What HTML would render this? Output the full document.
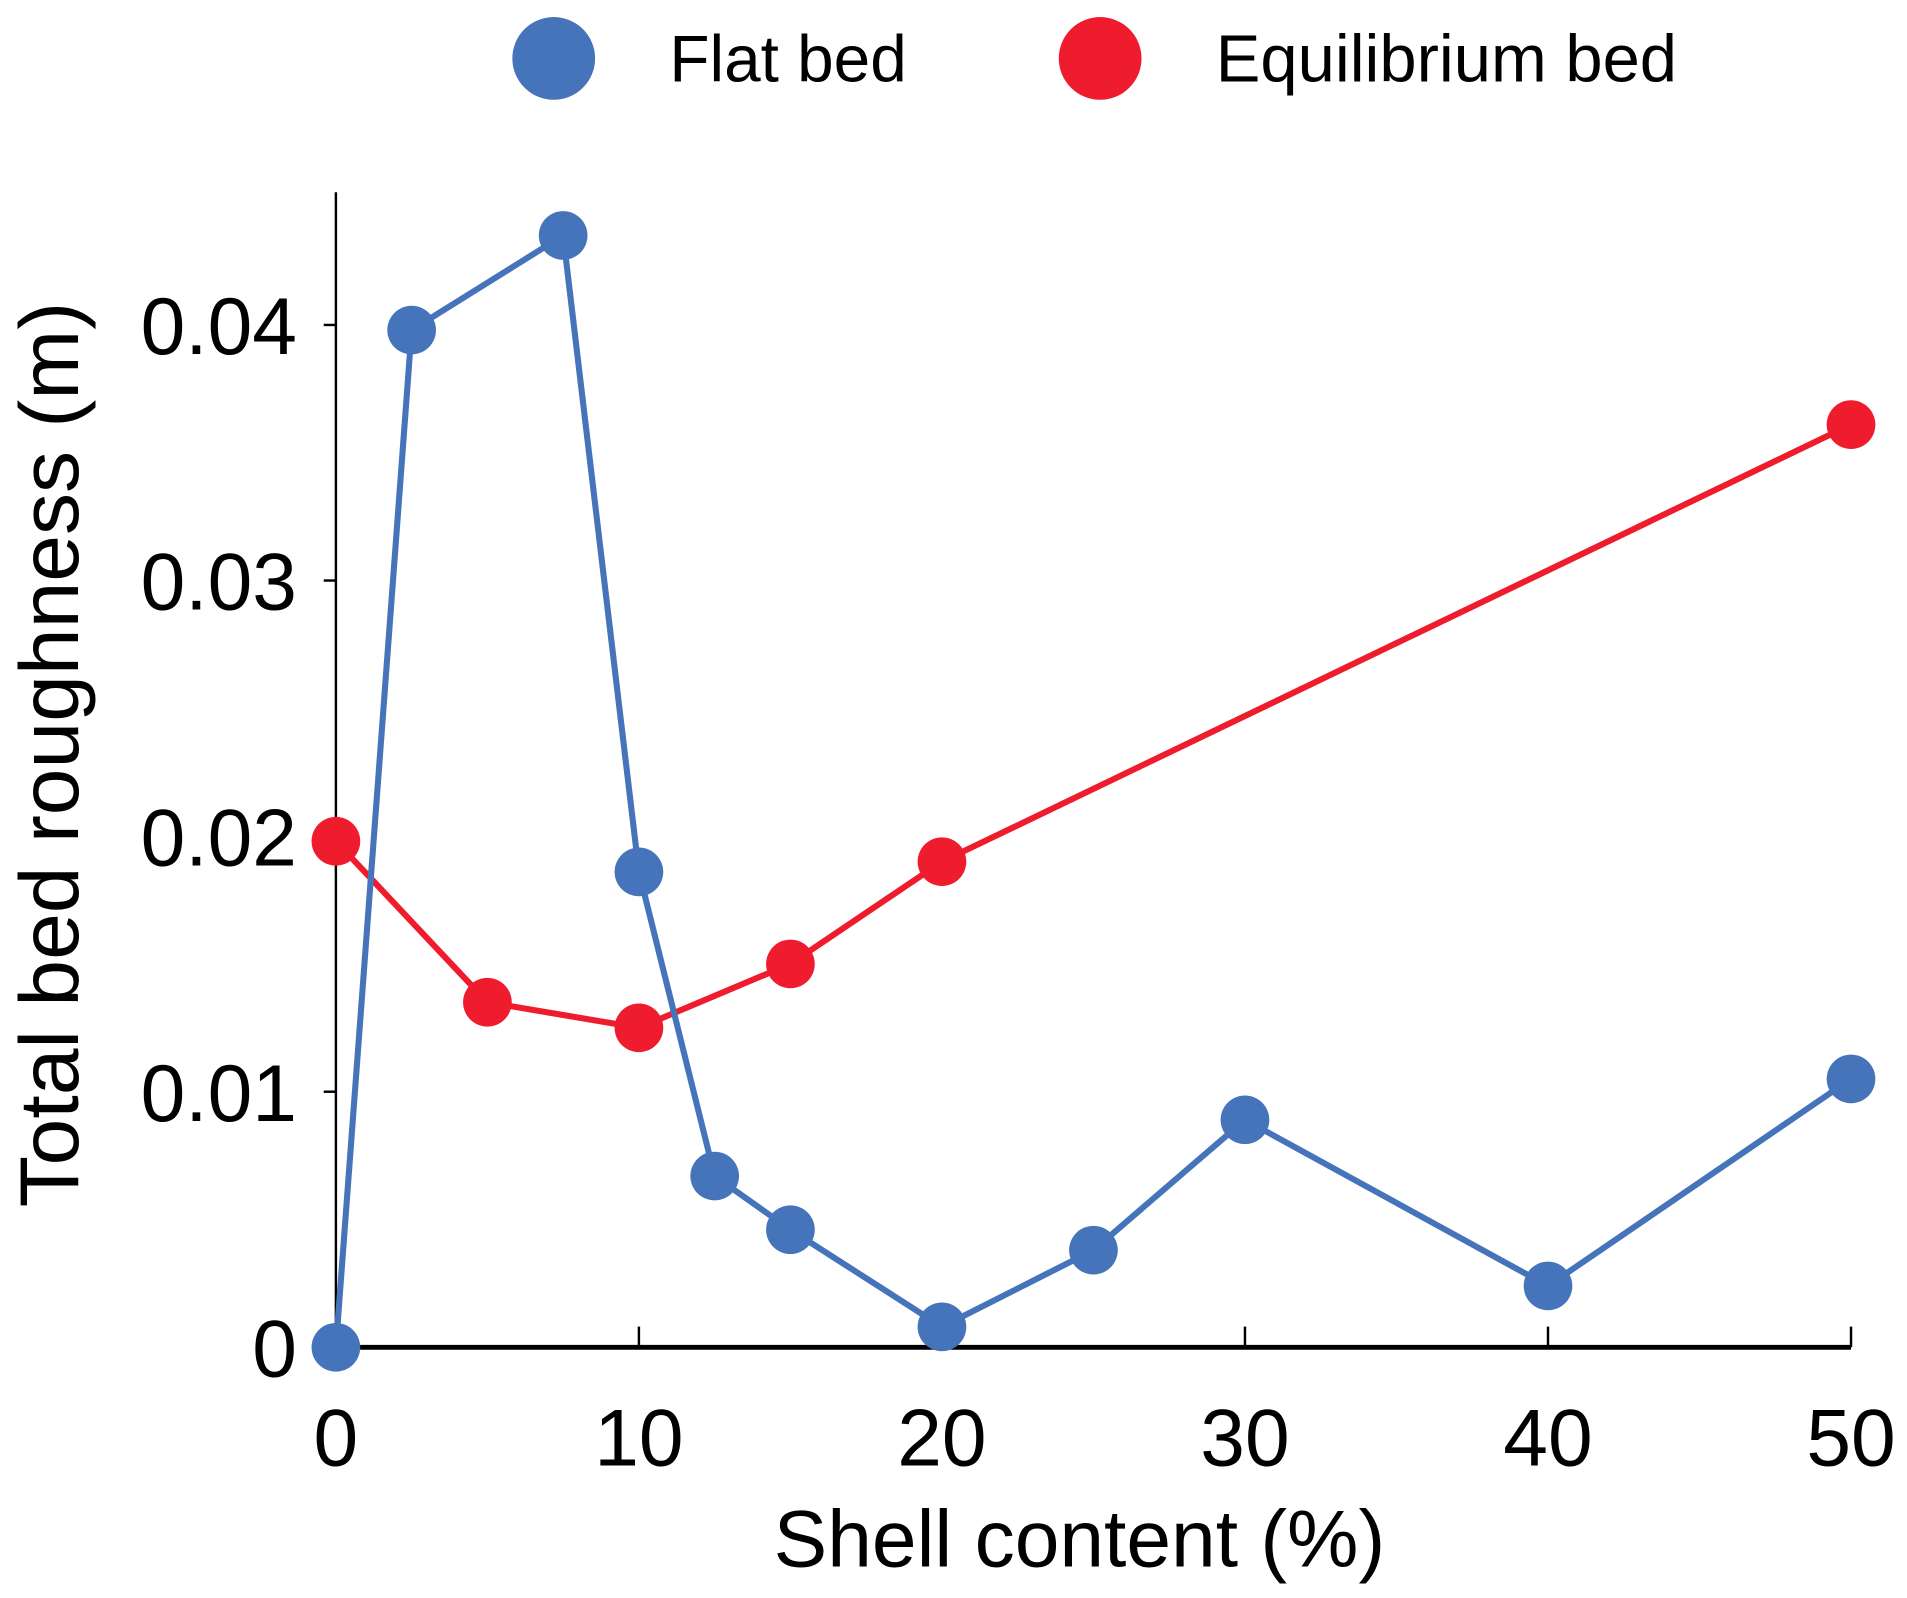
<!DOCTYPE html>
<html><head><meta charset="utf-8"><style>
html,body{margin:0;padding:0;background:#fff;}
svg{display:block;}
text{font-family:"Liberation Sans",Arial,sans-serif;fill:#000;}
</style></head><body>
<svg id="chart" width="1907" height="1598" viewBox="0 0 1567 1313" preserveAspectRatio="none" xmlns="http://www.w3.org/2000/svg">
<g id="legend">
 <g><circle cx="455" cy="48" r="34" fill="#4674BA"/><text x="550" y="67" font-size="54">Flat bed</text></g>
 <g><circle cx="904" cy="48" r="34" fill="#EE1C2C"/><text x="999" y="67" font-size="55">Equilibrium bed</text></g>
</g>
<g id="axes"></g>
<g id="series"></g>
<text x="887" y="1287" font-size="66" text-anchor="middle">Shell content (%)</text>
<text transform="translate(64,620) rotate(-90)" font-size="69" text-anchor="middle">Total bed roughness (m)</text>
</svg>
<script>
const xTicks = [0,10,20,30,40,50];
const yTicks = [0,0.01,0.02,0.03,0.04];
const yTickLabels = ["0","0.01","0.02","0.03","0.04"];
const flatX = [0,2.5,7.5,10,12.5,15,20,25,30,40,50];
const flatY = [0,0.0398,0.0435,0.0186,0.0067,0.0046,0.0008,0.0038,0.0089,0.0024,0.0105];
const eqX = [0,5,10,15,20,50];
const eqY = [0.0198,0.0135,0.0125,0.0150,0.0190,0.0361];

const NS="http://www.w3.org/2000/svg";
const x0=276,x1=1521,y0=1107;
function xs(v){return x0+(x1-x0)*v/50;}
function ys(v){return y0-v*21000;}
function mk(tag,attrs,parent){const e=document.createElementNS(NS,tag);for(const k in attrs)e.setAttribute(k,attrs[k]);parent.appendChild(e);return e;}
const axes=document.getElementById('axes');
let e=mk('line',{x1:x0,y1:158,x2:x0,y2:y0,stroke:'#000','stroke-width':2},axes);


e=mk('line',{x1:x0,y1:y0,x2:x1,y2:y0,stroke:'#000','stroke-width':4},axes);


xTicks.forEach(t=>{
 const tk=mk('line',{x1:xs(t),y1:y0,x2:xs(t),y2:1090,stroke:'#000','stroke-width':2},axes);
 
 
 const tl=mk('text',{x:xs(t),y:1204,'font-size':66,'text-anchor':'middle'},axes);
 tl.textContent=String(t);
 
 
});
yTicks.forEach((t,i)=>{
 const tk=mk('line',{x1:266,y1:ys(t),x2:x0,y2:ys(t),stroke:'#000','stroke-width':2},axes);
 
 
 const tl=mk('text',{x:244,y:ys(t)+24,'font-size':66,'text-anchor':'end'},axes);
 tl.textContent=yTickLabels[i];
 
 
});
const series=document.getElementById('series');
function draw(X,Y,color,name){
 const g=mk('g',{},series);
 
 
 const pl=mk('polyline',{points:X.map((v,i)=>xs(v)+','+ys(Y[i])).join(' '),fill:'none',stroke:color,'stroke-width':5},g);
 
 
 X.forEach((v,i)=>{
  const c=mk('circle',{cx:xs(v),cy:ys(Y[i]),r:20,fill:color},g);
  
  
 });
}
draw(eqX,eqY,'#EE1C2C','equilibrium-bed');
draw(flatX,flatY,'#4674BA','flat-bed');
</script>
</body></html>
